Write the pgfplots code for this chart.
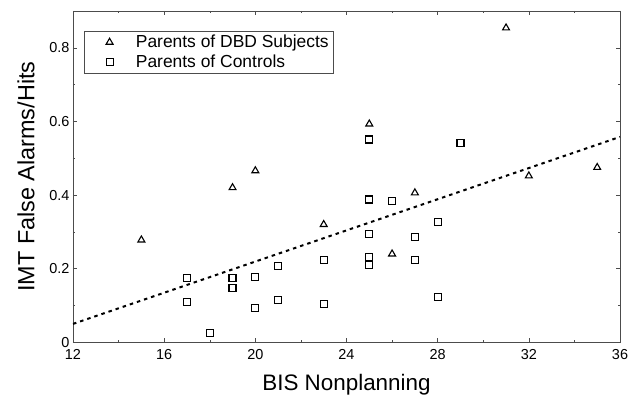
\documentclass[border=0pt]{standalone}
\usepackage{fontspec}
\setmainfont{Liberation Sans}
\usepackage{pgfplots}
\pgfplotsset{compat=1.18}
\begin{document}
\begin{tikzpicture}
\useasboundingbox (-73bp,-53.7bp) rectangle (563bp,342.3bp);
\begin{axis}[
  at={(0,0)}, anchor=south west,
  scale only axis, width=547bp, height=331.3bp,
  xmin=12, xmax=36, ymin=0, ymax=0.9,
  xtick={12,16,...,36}, ytick={0,0.2,0.4,0.6,0.8},
  minor x tick num=1, minor y tick num=1,
  tick align=inside,
  major tick length=4bp, minor tick length=2.5bp,
  every tick/.style={black!70, line width=0.5bp},
  axis line style={black!70, line width=0.7bp},
  /pgf/number format/assume math mode=true,
  ticklabel style={font=\fontsize{14.5}{16}\selectfont},
  xticklabel style={yshift=-4bp},
  xlabel={BIS Nonplanning},
  ylabel={IMT False Alarms/Hits},
  every axis x label/.style={at={(axis description cs:0.5,-0.129)}, anchor=center, font=\fontsize{22.5}{25}\selectfont},
  every axis y label/.style={at={(axis description cs:-0.086,0.5)}, rotate=90, anchor=center, font=\fontsize{23.5}{26}\selectfont},
  legend cell align=left,
  legend style={at={(axis description cs:0.0201,0.9400)}, anchor=north west,
    draw=black!70, line width=0.6bp, font=\fontsize{17.5}{21}\selectfont,
    inner xsep=3bp, inner ysep=2bp, row sep=1.5bp},
  legend image code/.code={\path (0bp,0bp) (46bp,0bp); \draw[only marks] plot coordinates {(22bp,0bp)};},
]
\addplot[only marks, mark=triangle, mark size=4bp, mark options={draw=black, fill=white, line width=1.1bp}]
coordinates {(15,0.278) (19,0.420) (20,0.466) (23,0.320) (25,0.593) (26,0.240) (27,0.406) (31,0.854) (32,0.452) (35,0.475)};
\addlegendentry{Parents of DBD Subjects}
\addplot[only marks, mark=square, mark size=3.5bp, mark options={draw=black, fill=white, line width=1.1bp}]
coordinates {(17,0.175) (17,0.110) (18,0.026) (19,0.175) (19,0.147) (20,0.178) (20,0.092) (21,0.208) (21,0.115) (23,0.223) (23,0.104) (25,0.551) (25,0.388) (25,0.294) (25,0.232) (25,0.209) (26,0.385) (27,0.285) (27,0.223) (28,0.326) (28,0.123) (29,0.542)};
\addlegendentry{Parents of Controls}
\addplot[black, line width=2bp, dash pattern=on 3.5bp off 4bp, forget plot]
coordinates {(12,0.05) (36,0.558)};
\end{axis}
\end{tikzpicture}
\end{document}
